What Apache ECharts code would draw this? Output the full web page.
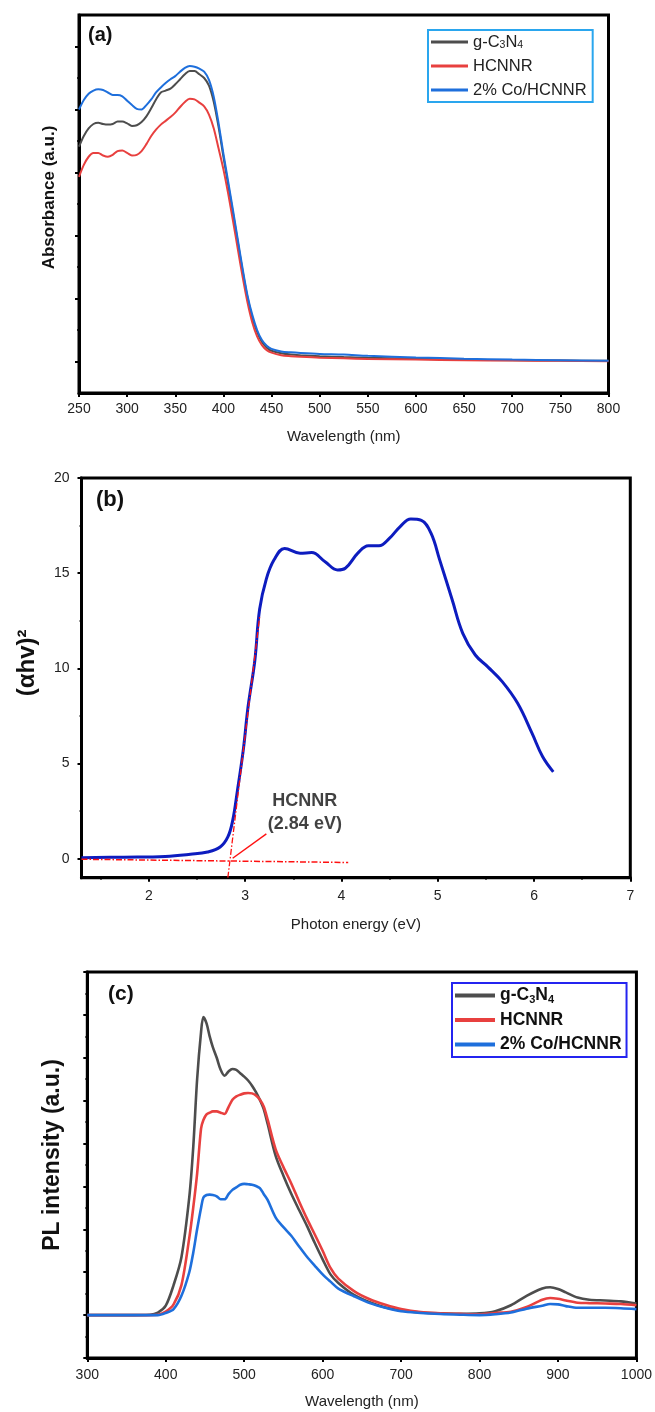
<!DOCTYPE html>
<html><head><meta charset="utf-8">
<script src="https://cdn.jsdelivr.net/npm/echarts@6/dist/echarts.min.js"></script>
<style>html,body{margin:0;padding:0;background:#fff}#c{width:655px;height:1412px}</style>
</head><body><div id="c"></div>
<script>
// ---------- (a) UV-vis absorbance ----------
const absWl = [250,255,260,265,270,275,280,285,290,295,300,305,310,315,320,325,330,335,340,345,350,355,360,365,370,375,380,385,390,395,400,405,410,415,420,425,430,435,440,445,450,460,470,480,500,525,550,600,650,700,750,800];
const absG = [3.41,3.58,3.70,3.77,3.79,3.77,3.76,3.77,3.81,3.81,3.78,3.74,3.75,3.80,3.89,4.02,4.16,4.27,4.30,4.33,4.40,4.48,4.56,4.61,4.61,4.56,4.50,4.38,4.12,3.72,3.25,2.80,2.35,1.89,1.43,1.02,0.70,0.47,0.31,0.22,0.17,0.13,0.11,0.10,0.085,0.07,0.06,0.045,0.03,0.02,0.015,0.01];
const absR = [2.93,3.12,3.25,3.31,3.31,3.27,3.25,3.28,3.34,3.35,3.31,3.27,3.28,3.34,3.45,3.58,3.68,3.76,3.82,3.88,3.95,4.04,4.12,4.17,4.16,4.11,4.05,3.92,3.70,3.38,3.05,2.66,2.23,1.78,1.34,0.94,0.62,0.40,0.26,0.18,0.14,0.10,0.085,0.075,0.06,0.05,0.04,0.03,0.02,0.015,0.01,0.005];
const absB = [4.00,4.15,4.25,4.30,4.32,4.31,4.27,4.23,4.23,4.21,4.14,4.07,4.01,4.00,4.07,4.16,4.27,4.35,4.42,4.48,4.53,4.60,4.66,4.69,4.68,4.65,4.60,4.47,4.20,3.78,3.30,2.85,2.40,1.93,1.47,1.05,0.74,0.50,0.34,0.25,0.20,0.16,0.145,0.135,0.12,0.11,0.09,0.065,0.045,0.03,0.02,0.01];
const absTicks = [0,1,2,3,4,5];
const absMinorTicks = [0.5,1.5,2.5,3.5,4.5];

// ---------- (b) Tauc plot ----------
const taucE = [1.30,1.74,2.17,2.43,2.61,2.74,2.82,2.87,2.92,2.98,3.03,3.10,3.15,3.22,3.30,3.41,3.57,3.69,3.83,3.96,4.04,4.17,4.28,4.39,4.50,4.61,4.72,4.83,4.93,5.02,5.15,5.26,5.39,5.52,5.67,5.83,5.98,6.09,6.20];
const taucY = [0.05,0.08,0.12,0.23,0.35,0.61,1.14,2.0,3.6,5.7,7.98,10.4,13.1,14.7,15.7,16.3,16.05,16.08,15.6,15.17,15.26,16.05,16.44,16.44,16.84,17.45,17.84,17.77,17.1,15.7,13.6,11.84,10.7,10.08,9.3,8.16,6.58,5.35,4.56];
const tangentE = [2.82,3.15];
const tangentY = [-1,12.7];
const baseE = [1.3,4.07];
const baseY = [-0.03,-0.2];
const arrowFrom = [3.22,1.3];
const arrowTo = [2.87,0.02];
const gapLabelPos = [3.62,2.45];
const taucXTicks = [2,3,4,5,6,7];
const taucXMinor = [1.5,2.5,3.5,4.5,5.5,6.5];
const taucYTicks = [0,5,10,15,20];
const taucYMinor = [2.5,7.5,12.5,17.5];

// ---------- (c) PL spectra ----------
const plWl = [300,350,380,390,400,410,420,430,435,440,445,448,452,456,460,465,470,475,480,485,490,495,500,505,510,515,520,525,530,540,550,560,570,580,590,600,610,620,640,660,680,700,725,750,775,800,820,840,860,880,890,900,910,925,940,960,980,1000];
const plG = [0,0,0.01,0.06,0.22,0.70,1.35,2.75,3.9,5.5,6.6,6.95,6.8,6.5,6.25,6.0,5.72,5.58,5.68,5.74,5.72,5.64,5.56,5.47,5.35,5.2,5.02,4.8,4.45,3.72,3.25,2.83,2.45,2.08,1.68,1.3,0.95,0.75,0.47,0.30,0.18,0.11,0.06,0.04,0.03,0.04,0.09,0.23,0.45,0.62,0.65,0.61,0.53,0.41,0.36,0.34,0.32,0.27];
const plR = [0,0,0,0.01,0.08,0.25,0.7,1.8,2.5,3.3,4.35,4.55,4.68,4.72,4.75,4.75,4.72,4.69,4.85,5.02,5.1,5.14,5.17,5.18,5.17,5.12,5.02,4.86,4.55,3.87,3.45,3.07,2.65,2.25,1.88,1.5,1.1,0.85,0.56,0.37,0.24,0.14,0.07,0.045,0.03,0.02,0.05,0.08,0.19,0.36,0.40,0.38,0.34,0.29,0.28,0.27,0.26,0.23];
const plB = [0,0,0,0,0.05,0.14,0.45,1.0,1.45,2.0,2.5,2.74,2.8,2.81,2.8,2.77,2.7,2.7,2.82,2.92,2.98,3.04,3.06,3.05,3.04,3.01,2.96,2.82,2.68,2.28,2.05,1.85,1.6,1.36,1.15,0.95,0.78,0.62,0.44,0.28,0.17,0.09,0.05,0.025,0.01,0.0,0.02,0.06,0.15,0.22,0.26,0.25,0.21,0.17,0.17,0.17,0.16,0.14];

const names = ['g-C3N4','HCNNR','2% Co/HCNNR'];
const colors = ['#4d4d4d','#e8403f','#1e6fdc'];

const FONT = '"Liberation Sans", Arial, Helvetica, sans-serif';
const zip = (xs, ys) => xs.map((x, i) => [x, ys[i]]);
const legendFmt = n => n === 'g-C3N4' ? 'g-C{s|3}N{s|4}' : n;
const plain = v => String(v);

const tickLbl = {fontSize: 14, color: '#222', fontFamily: FONT, formatter: plain};
const axLine = {show: true, onZero: false, lineStyle: {color: '#000', width: 3}};
const majTick = {show: true, length: 4, lineStyle: {color: '#000', width: 2}};
const minTickStyle = {length: 2, lineStyle: {color: '#000', width: 1.5}};

function overlayAxis(gridIndex, min, max, vals, position) {
  return {
    gridIndex, type: 'value', min, max, position,
    axisLine: {show: false, onZero: false},
    axisLabel: {show: false},
    splitLine: {show: false},
    axisTick: Object.assign({show: true, customValues: vals}, minTickStyle)
  };
}

const option = {
  animation: false,
  backgroundColor: '#fff',
  title: [
    {text: '(a)', left: 88, top: 25, padding: 0, textStyle: {fontSize: 20, fontWeight: 'bold', color: '#111', fontFamily: FONT}},
    {text: '(b)', left: 96, top: 489, padding: 0, textStyle: {fontSize: 22, fontWeight: 'bold', color: '#111', fontFamily: FONT}},
    {text: '(c)', left: 108, top: 984, padding: 0, textStyle: {fontSize: 21, fontWeight: 'bold', color: '#111', fontFamily: FONT}}
  ],
  legend: [
    {
      orient: 'vertical', left: 428, top: 30, padding: [3, 6, 3, 3], itemGap: 6,
      itemWidth: 37, itemHeight: 3, icon: 'rect',
      borderColor: '#2aa6ee', borderWidth: 2, data: names,
      formatter: legendFmt,
      textStyle: {fontSize: 16.5, color: '#222', fontFamily: FONT, lineHeight: 18,
        rich: {s: {fontSize: 10.5, lineHeight: 3, verticalAlign: 'bottom', color: '#222', fontFamily: FONT}}}
    },
    {
      orient: 'vertical', left: 452, top: 983, padding: [3, 5, 3, 3], itemGap: 5.5,
      itemWidth: 40, itemHeight: 4, icon: 'rect',
      borderColor: '#2424f0', borderWidth: 2, data: names,
      formatter: legendFmt,
      textStyle: {fontSize: 17.5, fontWeight: 'bold', color: '#111', fontFamily: FONT, lineHeight: 19,
        rich: {s: {fontSize: 11, fontWeight: 'bold', lineHeight: 4, verticalAlign: 'bottom', color: '#111', fontFamily: FONT}}}
    }
  ],
  grid: [
    {left: 79, top: 15, width: 529.5, height: 378, show: true, borderColor: '#000', borderWidth: 3, backgroundColor: 'transparent'},
    {left: 81.5, top: 478, width: 548.8, height: 399.7, show: true, borderColor: '#000', borderWidth: 3, backgroundColor: 'transparent'},
    {left: 87.3, top: 972, width: 549.2, height: 386, show: true, borderColor: '#000', borderWidth: 3, backgroundColor: 'transparent'}
  ],
  xAxis: [
    {gridIndex: 0, type: 'value', min: 250, max: 800, interval: 50, position: 'bottom',
     axisLine: axLine, axisTick: majTick,
     minorTick: Object.assign({show: true, splitNumber: 2}, minTickStyle),
     axisLabel: Object.assign({margin: 9}, tickLbl), splitLine: {show: false},
     name: 'Wavelength (nm)', nameLocation: 'middle', nameGap: 36,
     nameTextStyle: {fontSize: 15, color: '#222', fontFamily: FONT}},
    {gridIndex: 1, type: 'value', min: 1.3, max: 7, position: 'bottom',
     axisLine: axLine, axisTick: Object.assign({customValues: taucXTicks}, majTick),
     axisLabel: Object.assign({margin: 11, customValues: taucXTicks}, tickLbl), splitLine: {show: false},
     name: 'Photon energy (eV)', nameLocation: 'middle', nameGap: 40,
     nameTextStyle: {fontSize: 15, color: '#222', fontFamily: FONT}},
    overlayAxis(1, 1.3, 7, taucXMinor, 'bottom'),
    {gridIndex: 2, type: 'value', min: 300, max: 1000, interval: 100, position: 'bottom',
     axisLine: axLine, axisTick: majTick,
     minorTick: Object.assign({show: true, splitNumber: 2}, minTickStyle),
     axisLabel: Object.assign({margin: 10}, tickLbl), splitLine: {show: false},
     name: 'Wavelength (nm)', nameLocation: 'middle', nameGap: 36,
     nameTextStyle: {fontSize: 15, color: '#222', fontFamily: FONT}}
  ],
  yAxis: [
    {gridIndex: 0, type: 'value', min: -0.5, max: 5.5, position: 'left',
     axisLine: axLine, axisTick: Object.assign({customValues: absTicks}, majTick),
     axisLabel: {show: false}, splitLine: {show: false},
     name: 'Absorbance (a.u.)', nameLocation: 'middle', nameGap: 21,
     nameTextStyle: {fontSize: 17, fontWeight: 'bold', color: '#111', fontFamily: FONT, padding: [0, 0, 0, 13]}},
    overlayAxis(0, -0.5, 5.5, absMinorTicks, 'left'),
    {gridIndex: 1, type: 'value', min: -1, max: 20, position: 'left',
     axisLine: axLine, axisTick: Object.assign({customValues: taucYTicks}, majTick),
     axisLabel: Object.assign({margin: 12, customValues: taucYTicks}, tickLbl), splitLine: {show: false},
     name: '(αhv)²', nameLocation: 'middle', nameGap: 42,
     nameTextStyle: {fontSize: 24, fontWeight: 'bold', color: '#111', fontFamily: FONT, padding: [0, 0, 0, 30]}},
    overlayAxis(1, -1, 20, taucYMinor, 'left'),
    {gridIndex: 2, type: 'value', min: -1, max: 8, interval: 1, position: 'left',
     axisLine: axLine, axisTick: majTick,
     minorTick: Object.assign({show: true, splitNumber: 2}, minTickStyle),
     axisLabel: {show: false}, splitLine: {show: false},
     name: 'PL intensity (a.u.)', nameLocation: 'middle', nameGap: 23,
     nameTextStyle: {fontSize: 23, fontWeight: 'bold', color: '#111', fontFamily: FONT, padding: [0, 0, 0, 20]}}
  ],
  series: [
    {name: names[0], type: 'line', xAxisIndex: 0, yAxisIndex: 0, data: zip(absWl, absG), smooth: 0.3, symbol: 'none', color: colors[0], lineStyle: {width: 2}},
    {name: names[1], type: 'line', xAxisIndex: 0, yAxisIndex: 0, data: zip(absWl, absR), smooth: 0.3, symbol: 'none', color: colors[1], lineStyle: {width: 2}},
    {name: names[2], type: 'line', xAxisIndex: 0, yAxisIndex: 0, data: zip(absWl, absB), smooth: 0.3, symbol: 'none', color: colors[2], lineStyle: {width: 2}},

    {name: 'tauc', type: 'line', xAxisIndex: 1, yAxisIndex: 2, data: zip(taucE, taucY), smooth: 0.4, symbol: 'none', color: '#0d1cbf', lineStyle: {width: 3}},
    {name: 'tangent', type: 'line', xAxisIndex: 1, yAxisIndex: 2, data: zip(tangentE, tangentY), symbol: 'none', color: '#ff1010', lineStyle: {width: 1.3, type: [6, 2, 1.5, 2]}},
    {name: 'baseline', type: 'line', xAxisIndex: 1, yAxisIndex: 2, data: zip(baseE, baseY), symbol: 'none', color: '#ff1010', lineStyle: {width: 1.5, type: [6, 2, 1.5, 2]},
     markLine: {silent: true, symbol: ['none', 'arrow'], symbolSize: [0, 10], label: {show: false},
       lineStyle: {color: '#ff1010', width: 1.4, type: 'solid'},
       data: [[{coord: arrowFrom}, {coord: arrowTo}]]}},
    {name: 'gap', type: 'scatter', xAxisIndex: 1, yAxisIndex: 2, data: [gapLabelPos], symbolSize: 1, itemStyle: {color: 'rgba(0,0,0,0)'},
     label: {show: true, position: 'inside', formatter: 'HCNNR\n(2.84 eV)', fontSize: 18, fontWeight: 'bold', lineHeight: 23, color: '#111', fontFamily: FONT}},

    {name: names[0], type: 'line', xAxisIndex: 3, yAxisIndex: 4, data: zip(plWl, plG), smooth: 0.3, symbol: 'none', color: colors[0], lineStyle: {width: 2.6}},
    {name: names[1], type: 'line', xAxisIndex: 3, yAxisIndex: 4, data: zip(plWl, plR), smooth: 0.3, symbol: 'none', color: colors[1], lineStyle: {width: 2.6}},
    {name: names[2], type: 'line', xAxisIndex: 3, yAxisIndex: 4, data: zip(plWl, plB), smooth: 0.3, symbol: 'none', color: colors[2], lineStyle: {width: 2.6}}
  ]
};

const chart = echarts.init(document.getElementById('c'), null, {renderer: 'canvas'});
chart.setOption(option);
</script>
</body></html>
